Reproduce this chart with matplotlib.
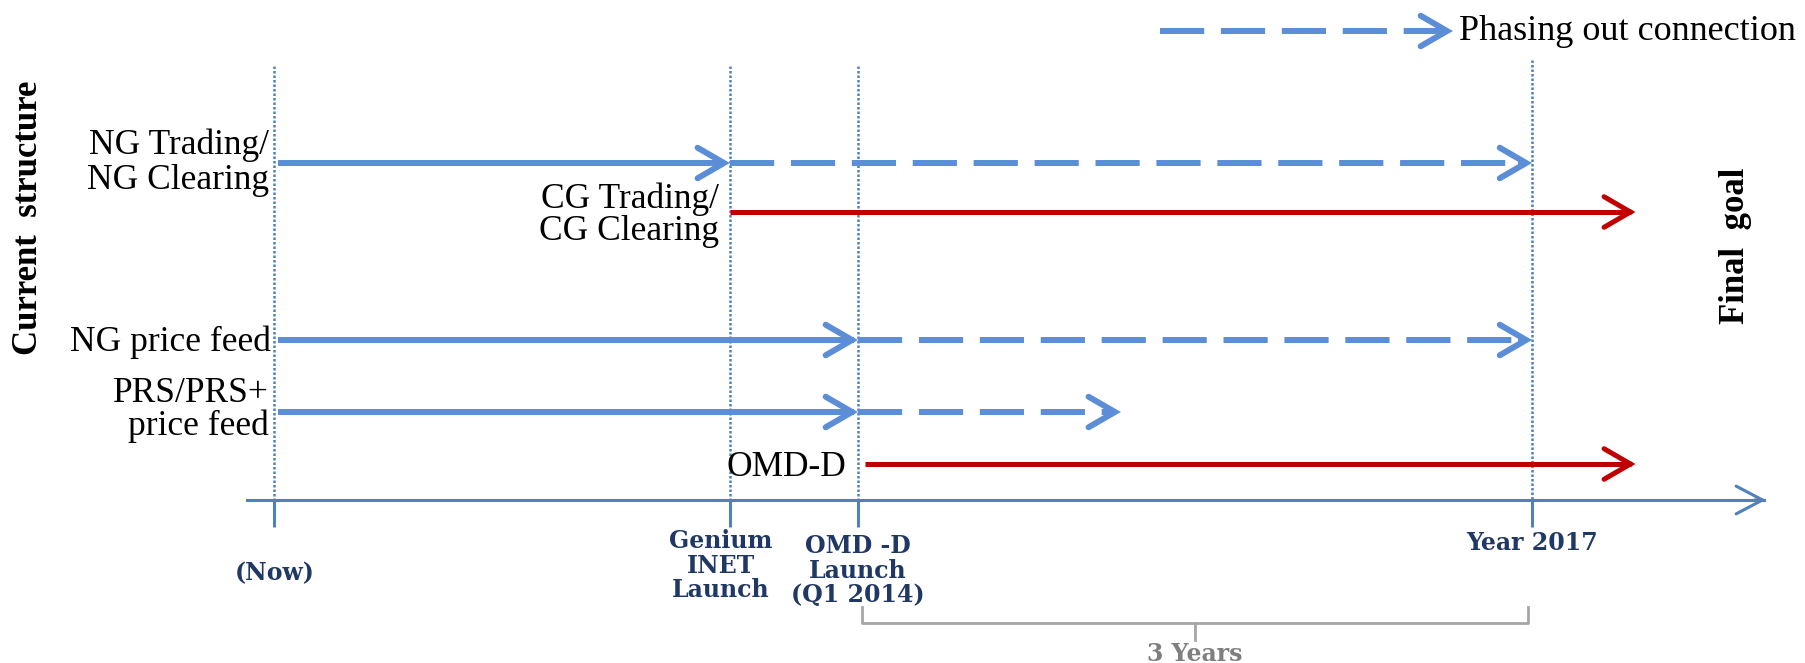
import matplotlib
matplotlib.use("Agg")
import matplotlib.pyplot as plt
from matplotlib.transforms import offset_copy

# Milestones on the time axis (years)
milestone_labels = ["(Now)", "Genium\nINET\nLaunch", "OMD -D\nLaunch\n(Q1 2014)", "Year 2017"]
milestone_t = [2011.40, 2013.43, 2014.00, 2017.00]

# Connections: start, end of the solid part, end of the phasing-out (dashed) part
row_labels = ["NG Trading/\nNG Clearing", "CG Trading/\nCG Clearing", "NG price feed",
              "PRS/PRS+\nprice feed", "OMD-D"]
row_start = [2011.42, 2013.43, 2011.42, 2011.42, 2014.03]
row_solid_end = [2013.43, 2017.46, 2014.00, 2014.00, 2017.46]
row_dashed_end = [2017.00, None, 2017.00, 2015.17, None]
row_final = [False, True, False, False, True]

span_start, span_end = 2014.00, 2017.00
span_label = "3 Years"

# Layout (pixel rows, figure is 1806 x 663)
lane_y = [163, 212, 340, 412, 464]
axis_y = 500
px_per_year = 224.7
x0 = 2014 - 858 / px_per_year

BLUE = "#5B8ED6"
AXIS_BLUE = "#4F81BD"
RED = "#C00000"
NAVY = "#1F3864"
GRAY = "#A6A6A6"
SERIF = "Liberation Serif"
SLAB = "DejaVu Serif"

fig = plt.figure(figsize=(18.06, 6.63), dpi=100)
ax = fig.add_axes([0, 0, 1, 1])
ax.set_xlim(x0, x0 + 1806 / px_per_year)
ax.set_ylim(663, 0)
ax.axis("off")


def head(x, y, color, lw, hl=1.9, hw=1.1):
    ax.annotate("", xy=(x, y), xytext=(x - 0.05, y),
                arrowprops=dict(arrowstyle=f"->,head_length={hl},head_width={hw}",
                                color=color, lw=lw, shrinkA=0, shrinkB=0,
                                mutation_scale=10, joinstyle="miter"))


def px(dx, dy=0):
    return offset_copy(ax.transData, fig=fig, x=dx * 0.72, y=dy * 0.72, units="points")


# dotted milestone guides and ticks
guide_top = [66, 66, 66, 60]
for t, top in zip(milestone_t, guide_top):
    ax.plot([t, t], [top, axis_y], color=AXIS_BLUE, lw=1.8, linestyle=(0, (1, 0.8)))
    ax.plot([t, t], [axis_y, 527], color=AXIS_BLUE, lw=2.2, solid_capstyle="butt")

# time axis
ax.plot([2011.28, 2018.03], [axis_y, axis_y], color=AXIS_BLUE, lw=2.2)
head(2018.04, axis_y, AXIS_BLUE, 2.2, hl=1.9, hw=1.0)

# connections
for i in range(len(row_labels)):
    y = lane_y[i]
    color = RED if row_final[i] else BLUE
    lw = 3.6 if row_final[i] else 4.3
    ax.plot([row_start[i], row_solid_end[i] - 0.02], [y, y], color=color, lw=lw,
            solid_capstyle="butt")
    head(row_solid_end[i], y, color, lw)
    if row_dashed_end[i] is not None:
        ax.plot([row_solid_end[i], row_dashed_end[i] - 0.03], [y, y], color=BLUE, lw=4.3,
                dashes=(7.4, 2.8))
        head(row_dashed_end[i], y, BLUE, 4.3)

# connection labels (y = baseline of the last line)
lab_kw = dict(fontsize=25.5, family=SERIF, color="black", va="baseline")
ax.text(milestone_t[0], 189, row_labels[0], ha="right", linespacing=1.08,
        transform=px(-5), **lab_kw)
ax.text(milestone_t[1], 240, row_labels[1], ha="right", linespacing=0.98,
        transform=px(-11), **lab_kw)
ax.text(milestone_t[0], 351, row_labels[2], ha="right", transform=px(-3), **lab_kw)
ax.text(milestone_t[0], 435, row_labels[3], ha="right", linespacing=0.98,
        transform=px(-5), **lab_kw)
ax.text(milestone_t[1], 476, row_labels[4], ha="left", transform=px(-3), **lab_kw)

# milestone labels (y = baseline of the last line)
ms_y = [580, 597, 602, 550]
ms_dx = [1, -9, 0, 0]
for lab, t, y, dx in zip(milestone_labels, milestone_t, ms_y, ms_dx):
    ax.text(t, y, lab, ha="center", va="baseline", fontsize=17, family=SLAB,
            fontweight="bold", color=NAVY, linespacing=1.02, transform=px(dx))

# 3-year bracket
mid = (span_start + span_end) / 2
bx0, bx1 = span_start + 0.02, span_end - 0.02
ax.plot([bx0, bx0, bx1, bx1], [607, 623, 623, 607], color=GRAY, lw=2)
ax.plot([mid, mid], [623, 640], color=GRAY, lw=2)
ax.text(mid, 661, span_label, ha="center", va="baseline", fontsize=17, family=SLAB,
        fontweight="bold", color="#7F7F7F")

# side titles
fig.text(29 / 1806, 1 - 218 / 663, "Current  structure", rotation=90, ha="center",
         va="center", fontsize=25, family=SERIF, fontweight="bold")
fig.text(1736 / 1806, 1 - 246 / 663, "Final  goal", rotation=90, ha="center",
         va="center", fontsize=25, family=SERIF, fontweight="bold")

# legend
lx0 = x0 + 1160 / px_per_year
lx1 = x0 + 1453 / px_per_year
ax.plot([lx0, lx1 - 0.03], [31, 31], color=BLUE, lw=4.3, dashes=(7.4, 2.8))
head(lx1, 31, BLUE, 4.3)
ax.text(lx1, 31, "Phasing out connection", ha="left", va="center", fontsize=26,
        family=SERIF, transform=px(6))

fig.savefig("out.png", dpi=100)
